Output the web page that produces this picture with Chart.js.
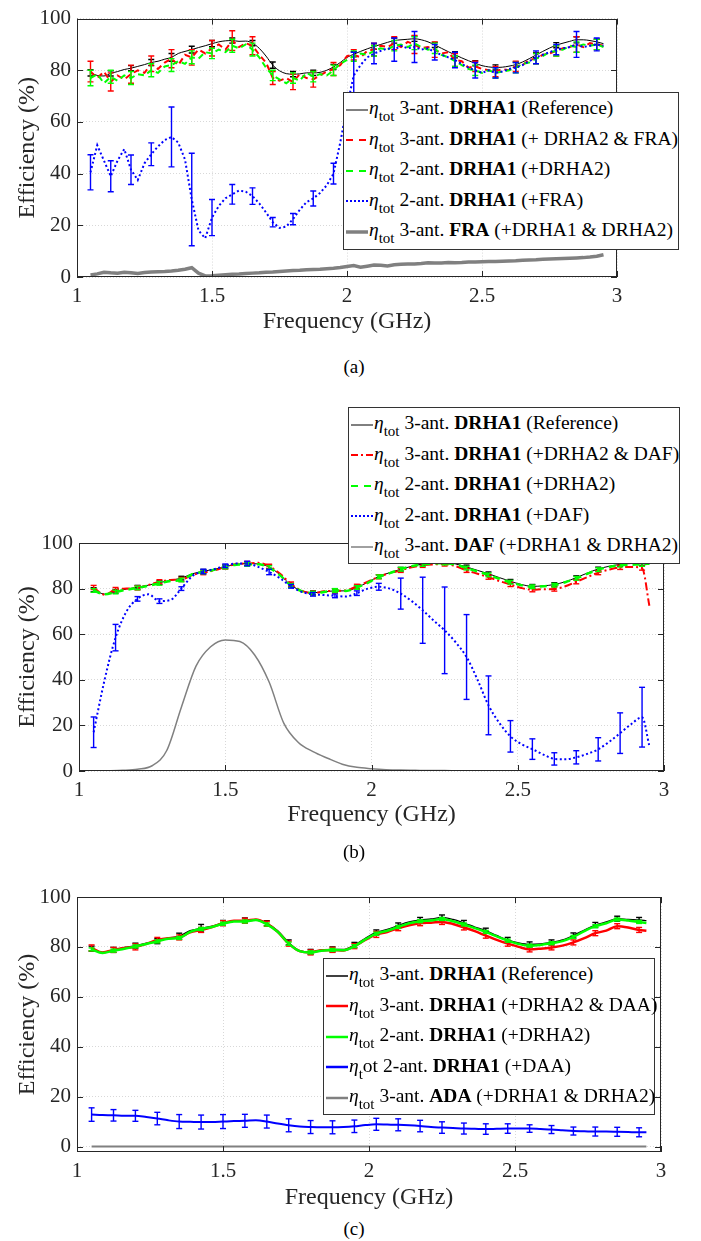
<!DOCTYPE html>
<html>
<head>
<meta charset="utf-8">
<script src="https://cdn.jsdelivr.net/npm/chart.js@4/dist/chart.umd.min.js"></script>
<style>
  body { margin: 0; background: #fff; }
  #page { position: relative; width: 701px; height: 1241px; font-family: "Liberation Serif", serif; color: #262626; }
  canvas { position: absolute; left: 0; }
  .legend { position: absolute; box-sizing: border-box; border: 1px solid #333; background: #fff; z-index: 5; font-size: 19.5px; color: #000; }
  .row { height: 30.6px; line-height: 30.6px; white-space: nowrap; }
  .row svg { vertical-align: middle; margin-left: 2px; margin-right: 1px; }
  .sub { font-size: 15px; position: relative; top: 7px; }
  .cap { position: absolute; left: 0; width: 708px; text-align: center; font-size: 19px; line-height: 24px; color: #000; }
</style>
</head>
<body>
<div id="page">
  <canvas id="chartA" width="701" height="336" style="top:0px"></canvas>
  <canvas id="chartB" width="701" height="349" style="top:480px"></canvas>
  <canvas id="chartC" width="701" height="352" style="top:860px"></canvas>

  <div class="legend" style="left:343px;top:92px;width:336px;height:158px">
    <div class="row"><svg width="22" height="8"><line x1="0" y1="4" x2="22" y2="4" stroke="#000" stroke-width="1"/></svg><i>η</i><span class="sub">tot</span> 3-ant. <b>DRHA1</b> (Reference)</div>
    <div class="row"><svg width="22" height="8"><line x1="0" y1="4" x2="22" y2="4" stroke="#f00" stroke-width="2" stroke-dasharray="7 6"/></svg><i>η</i><span class="sub">tot</span> 3-ant. <b>DRHA1</b> (+ DRHA2 &amp; FRA)</div>
    <div class="row"><svg width="22" height="8"><line x1="0" y1="4" x2="22" y2="4" stroke="#0f0" stroke-width="2" stroke-dasharray="7 6"/></svg><i>η</i><span class="sub">tot</span> 2-ant. <b>DRHA1</b> (+DRHA2)</div>
    <div class="row"><svg width="22" height="8"><line x1="0" y1="4" x2="22" y2="4" stroke="#00f" stroke-width="2" stroke-dasharray="2 2"/></svg><i>η</i><span class="sub">tot</span> 2-ant. <b>DRHA1</b> (+FRA)</div>
    <div class="row"><svg width="22" height="8"><line x1="0" y1="4" x2="22" y2="4" stroke="#808080" stroke-width="3.5"/></svg><i>η</i><span class="sub">tot</span> 3-ant. <b>FRA</b> (+DRHA1 &amp; DRHA2)</div>
  </div>

  <div class="legend" style="left:348px;top:407px;width:332px;height:157px">
    <div class="row"><svg width="22" height="8"><line x1="0" y1="4" x2="22" y2="4" stroke="#000" stroke-width="1"/></svg><i>η</i><span class="sub">tot</span> 3-ant. <b>DRHA1</b> (Reference)</div>
    <div class="row"><svg width="22" height="8"><line x1="0" y1="4" x2="22" y2="4" stroke="#f00" stroke-width="2" stroke-dasharray="7 3 2 3"/></svg><i>η</i><span class="sub">tot</span> 3-ant. <b>DRHA1</b> (+DRHA2 &amp; DAF)</div>
    <div class="row"><svg width="22" height="8"><line x1="0" y1="4" x2="22" y2="4" stroke="#0f0" stroke-width="2" stroke-dasharray="7 6"/></svg><i>η</i><span class="sub">tot</span> 2-ant. <b>DRHA1</b> (+DRHA2)</div>
    <div class="row"><svg width="22" height="8"><line x1="0" y1="4" x2="22" y2="4" stroke="#00f" stroke-width="2" stroke-dasharray="2 2"/></svg><i>η</i><span class="sub">tot</span> 2-ant. <b>DRHA1</b> (+DAF)</div>
    <div class="row"><svg width="22" height="8"><line x1="0" y1="4" x2="22" y2="4" stroke="#808080" stroke-width="1.5"/></svg><i>η</i><span class="sub">tot</span> 3-ant. <b>DAF</b> (+DRHA1 &amp; DRHA2)</div>
  </div>

  <div class="legend" style="left:323px;top:958px;width:332px;height:157px">
    <div class="row"><svg width="22" height="8"><line x1="0" y1="4" x2="22" y2="4" stroke="#000" stroke-width="1.5"/></svg><i>η</i><span class="sub">tot</span> 3-ant. <b>DRHA1</b> (Reference)</div>
    <div class="row"><svg width="22" height="8"><line x1="0" y1="4" x2="22" y2="4" stroke="#f00" stroke-width="2.5"/></svg><i>η</i><span class="sub">tot</span> 3-ant. <b>DRHA1</b> (+DRHA2 &amp; DAA)</div>
    <div class="row"><svg width="22" height="8"><line x1="0" y1="4" x2="22" y2="4" stroke="#0f0" stroke-width="2.5"/></svg><i>η</i><span class="sub">tot</span> 2-ant. <b>DRHA1</b> (+DRHA2)</div>
    <div class="row"><svg width="22" height="8"><line x1="0" y1="4" x2="22" y2="4" stroke="#00f" stroke-width="2.5"/></svg><i>η</i><span class="sub">t</span>ot 2-ant. <b>DRHA1</b> (+DAA)</div>
    <div class="row"><svg width="22" height="8"><line x1="0" y1="4" x2="22" y2="4" stroke="#808080" stroke-width="2.5"/></svg><i>η</i><span class="sub">tot</span> 3-ant. <b>ADA</b> (+DRHA1 &amp; DRHA2)</div>
  </div>

  <div class="cap" style="top:355px">(a)</div>
  <div class="cap" style="top:840px">(b)</div>
  <div class="cap" style="top:1217px">(c)</div>
</div>

<script>
// axis ticks
const xTicks = [1, 1.5, 2, 2.5, 3];
const xTickLabels = ['1', '1.5', '2', '2.5', '3'];
const yTicks = [0, 20, 40, 60, 80, 100];
const yTickLabels = ['0', '20', '40', '60', '80', '100'];

// error bar positions (GHz), shared by all panels
const errX = [1.05,1.125,1.2,1.275,1.35,1.425,1.5,1.575,1.65,1.725,1.8,1.875,1.95,2.025,2.1,2.175,2.25,2.325,2.4,2.475,2.55,2.625,2.7,2.775,2.85,2.925];

// ---- panel (a) ----
const freqA = [1.05,1.075,1.1,1.125,1.15,1.175,1.2,1.225,1.25,1.275,
  1.3,1.325,1.35,1.375,1.4,1.425,1.45,1.475,1.5,1.525,
  1.55,1.575,1.6,1.625,1.65,1.675,1.7,1.725,1.75,1.775,
  1.8,1.825,1.85,1.875,1.9,1.925,1.95,1.975,2.0,2.025,
  2.05,2.075,2.1,2.125,2.15,2.175,2.2,2.225,2.25,2.275,
  2.3,2.325,2.35,2.375,2.4,2.425,2.45,2.475,2.5,2.525,
  2.55,2.575,2.6,2.625,2.65,2.675,2.7,2.725,2.75,2.775,
  2.8,2.825,2.85,2.875,2.9,2.925,2.95];
const refA = [79,78,77.8,78.8,79.5,80.3,80.8,81.5,82.2,83,
  83.5,84.3,85,86.5,87.3,88,88.8,89.5,90.3,91,
  91.4,91.5,91.2,91.3,90.5,88.5,85.5,82,79.8,78.7,
  78.5,78.6,79,79,79.2,80,81.3,83,85,86.2,
  87.3,88.3,89.2,90,90.8,91.5,91.8,92,92.2,91.8,
  91,89.8,88.5,87.2,86,84.8,83.7,82.7,81.8,81.3,
  81.1,81.2,81.6,82.2,83.2,84.5,85.9,87.3,88.6,89.7,
  90.5,91.2,91.8,91.8,91.5,91,90.3];
const redA = [79.5,77,79.5,75.5,78,76.5,78.5,80,79,82.5,
  80.5,83,84.5,82,86,85,88,86.5,88.5,90,
  88,91.5,89,90.5,89.5,86,83,77,76,77,
  75.5,78.5,77,76.5,78,79.5,80.5,82,85.5,86,
  85,87.5,88,89.5,89,90.5,89,91,90,88.5,
  89,88,86.5,87,84,83.5,81,81.5,80.5,80,
  79.5,80.5,80,81.5,82,84,84.5,86,86.5,87.5,
  88.5,89,90,89,90.5,90,89.5];
const greenA = [77,78.5,75,77.5,76,78,77,78.5,78,80,
  79,81.5,82,83.5,82.5,85,84.5,87,86.5,88,
  87,89.5,88.5,90,88,85,81,78,76.5,75,
  77,76,79,77.5,78.5,78,80,82.5,84,85.5,
  86.5,86,87.5,88.5,88,89.5,90,89,90.5,89,
  88,88.5,86,85,83.5,82,80.5,80,79,80,
  79,79.5,80,81,82.5,83,84.5,85.5,87,87.5,
  88,89.5,89,90,89.5,90,89];
const blueA = [40.5,51,45,39,45,49.5,41.5,37.5,44,47.5,
  50.5,53,54.2,52,45.5,30,18,15,23,27.5,
  30.5,32,33.5,33,31.3,28.5,25,21.2,19,19.5,
  22.4,26,29,30.4,32.5,35.5,40,52,66,78,
  82,85,86.5,87.5,88.5,88,89.5,88.5,89,88,
  88.5,87,86,85,84,82.5,81,80,79,80,
  79,79.5,80.5,81,82,83.5,85,86,87,88,
  88.5,89,90,89,89.5,90,89.5];
const grayA = [0.8,1.2,1.8,1.6,1.5,1.8,1.6,1.4,1.7,1.9,
  2,2.1,2.3,2.6,3,3.6,1.5,0.4,0.5,0.7,
  0.9,1.1,1.2,1.4,1.5,1.6,1.8,1.9,2.1,2.3,
  2.5,2.6,2.8,2.9,3,3.2,3.4,3.7,4.1,4.4,
  3.8,4.2,4.6,4.5,4.3,4.7,4.9,5,5,5.2,
  5.5,5.4,5.4,5.6,5.5,5.6,5.8,5.8,5.9,6,
  6,6.1,6.2,6.3,6.5,6.6,6.7,6.9,7,7.1,
  7.2,7.3,7.4,7.5,7.7,8,8.6];
const refErrA = [1.2,1,1,1.2,1.5,1.3,1.2,1,1,1.2,1,1,1,1,1,1,1,1,1.2,1,1,1,1,1,1.2,1];
const redErrA = [4,3.5,3.5,3,3.5,3,3,3.8,3.5,2.5,3,3,2.5,2,2.5,2.5,3.5,3,2.5,2,2,2,2,2,3,2];
const greenErrA = [3,2.5,2.5,2.5,2.5,2.5,2,2.5,2.5,2,2,2,2,2,2,2,2.5,2,2,2,2,2,2,2,2,2];
const blueErrA = [6.8,6,5.7,4.4,11.6,17.9,7,3.8,3.2,1.8,2.2,2.9,4,9,4,4.5,6,3,3,3,2,2,2.5,2,5,2.5];

// ---- panels (b) and (c) share a frequency grid ----
const freqBC = [1.05,1.0875,1.125,1.1625,1.2,1.2375,1.275,1.3125,1.35,1.3875,
  1.425,1.4625,1.5,1.5375,1.575,1.6125,1.65,1.6875,1.725,1.7625,
  1.8,1.8375,1.875,1.9125,1.95,1.9875,2.025,2.0625,2.1,2.1375,
  2.175,2.2125,2.25,2.2875,2.325,2.3625,2.4,2.4375,2.475,2.5125,
  2.55,2.5875,2.625,2.6625,2.7,2.7375,2.775,2.8125,2.85,2.8875,
  2.925,2.95];

// ---- panel (b) ----
const refB = [79.5,77.6,78.8,79.8,80.6,81.5,82.6,83.6,84.6,86.5,
  87.6,88.5,89.6,90.6,91,90.8,89.5,86,81.5,79,
  78.2,78.6,79,79,80.5,82.8,85.3,87,88.5,89.8,
  90.8,91.3,91.5,90.8,89.5,88,86.5,84.8,83.2,81.8,
  81,81.2,81.8,83,84.8,86.8,88.6,89.8,90.6,91,
  91,90.8];
const redB = [80.5,77.3,79.6,80,80.3,81.6,83,83.8,84,86,
  87,88,89.5,90.8,91,91.3,89.8,86.5,82,79,
  78,78.8,79,79.2,81,83,85.2,86.8,88,89.3,
  90.2,90.6,90.8,89.8,88,86.5,85,83.3,81.8,80.3,
  79.5,79.7,79.8,81,83,85,87,88.3,89.3,89.5,
  89,72.5];
const greenB = [79.2,77.5,78.5,79.5,80.3,81.3,82.3,83.3,83.8,86.3,
  87.3,88.3,89.5,90.5,90.6,90.7,89.2,85.8,81.3,78.8,
  78,78.5,79.2,79,80.5,82.5,85.2,86.8,88.5,89.8,
  90.6,91,91.2,90.5,89,87.5,86,84.3,82.8,81.5,
  80.8,81,81.5,82.8,84.5,86.5,88.3,89.5,90.3,90.5,
  90.6,91];
const blueB = [17,40,58.5,70,75.5,77.5,74.5,75,80,85.5,
  87.5,88.5,90,91,91,89.5,87.3,84.5,81,78.5,
  77.5,77.2,76.8,76.5,78,80,80.8,80,77.8,74.5,
  70.5,66,61.7,56.5,50,40,28.8,21,15.2,11.8,
  9.6,7.2,5.3,5.1,6,7.5,9.5,12.8,16.6,20.5,
  23.6,11];
const freqGrayB = [1.05,1.1,1.15,1.2,1.25,1.3,1.35,1.4,1.45,1.5,
  1.55,1.6,1.65,1.7,1.75,1.8,1.85,1.9,1.95,2.0,
  2.05,2.1,2.15,2.2,2.25,2.3,2.35,2.4,2.45,2.5,
  2.55,2.6,2.65,2.7,2.75,2.8,2.85,2.9,2.95];
const grayB = [0,0.1,0.3,0.8,2.3,9,28,46,54.5,57.5,
  56.8,51,39,21,12.5,8.5,5.6,3,1.6,1,
  0.6,0.4,0.3,0.2,0.2,0.1,0.1,0.1,0.1,0.1,
  0.1,0.1,0.1,0.1,0.1,0.1,0.1,0.1,0.1];
const refErrB = [0.9,0.8,0.8,0.8,0.8,0.8,0.8,0.8,0.8,0.8,0.8,0.8,0.8,0.8,0.8,0.8,0.8,0.8,0.8,0.8,0.8,0.8,0.8,0.8,0.8,0.8];
const redErrB = [0.9,0.9,0.9,0.9,0.9,0.9,0.9,0.9,0.9,0.9,0.9,0.9,0.9,0.9,0.9,0.9,0.9,0.9,0.9,0.9,0.9,0.9,0.9,0.9,0.9,0.9];
const greenErrB = [0.8,0.8,0.8,0.8,0.8,0.8,0.8,0.8,0.8,0.8,0.8,0.8,0.8,0.8,0.8,0.8,0.8,0.8,0.8,0.8,0.8,0.8,0.8,0.8,0.8,0.8];
const blueErrB = [6.7,5.8,1,1,0.8,1,0.8,1,1.2,0.8,0.8,0.8,1,1.5,6.8,14.5,19,18.6,12.9,6.9,4.5,2.7,2.9,5.1,8.9,13.1];

// ---- panel (c) ----
const refC = [79.3,77.8,78.8,79.8,80.5,81.5,82.3,83.5,84.3,86.5,
  87.5,88.3,89.6,90.3,90.6,90.8,89.5,86.5,81.8,78.5,
  78,78.7,79,79,80.8,83.5,85.8,87,88.6,90,
  90.8,91.2,91.8,91,89.6,88,86.5,84.6,82.8,81.6,
  81,81.2,81.8,82.8,84.6,86.8,88.8,90,91.3,91,
  90.8,90.5];
const redC = [79.6,77.8,78.8,79.6,80,81.2,82.8,83.5,83.8,85.8,
  86.8,88,89.5,90.5,90.5,91,89.3,86,81.3,78.3,
  77.8,78.7,78.8,78.6,80.3,82.8,85,86,87.5,88.7,
  89.5,89.7,90,89.2,87.8,86.3,84.5,82.8,81.3,80,
  79,79.3,79.8,80.5,81.8,83.5,85.5,86.5,88.3,87.8,
  86.8,86.5];
const greenC = [79,77.6,78.5,79.3,80.2,81.2,82.2,83.3,83.6,86,
  87.2,88,89.3,90.2,90.2,90.8,89,86,81.3,78.3,
  77.8,78.5,78.8,78.7,80.3,83,85.3,86.5,88,89.5,
  90.3,90.6,91.2,90.3,89,87.5,86,84.2,82.5,81.2,
  80.5,80.8,81.5,82.3,84,86.3,88.3,89.5,91,90.6,
  90,89.6];
const blueC = [12.8,12.6,12.5,12.3,12.3,11.8,11.2,10.5,10,9.9,
  9.8,9.8,10,10.2,10.3,10.5,10,9.2,8.5,8,
  7.8,7.7,7.7,7.8,8.1,8.6,8.9,8.8,8.7,8.5,
  8.2,7.8,7.6,7.4,7.2,7.1,7,7.1,7.2,7.2,
  7.2,7,6.8,6.5,6.2,6.1,6,6,5.9,5.8,
  5.7,5.7];
const freqGrayC = [1.05, 2.95];
const grayC = [0, 0];
const refErrC = [1,1,1,1,1.2,1.5,1,1,1,1,1,1,1,1,1,1,1,1,1,1,1,1,1,1,1,1];
const redErrC = [1.2,1,1.2,1,1,1,1,1,1,1,1,1,1,1.2,1,1,1,1,1,1,1,1,1,1,1,1];
const greenErrC = [0.6,0.6,0.6,0.6,0.6,0.6,0.6,0.6,0.6,0.6,0.6,0.6,0.6,0.6,0.6,0.6,0.6,0.6,0.6,0.6,0.6,0.6,0.6,0.6,0.6,0.6];
const blueErrC = [2.7,2.3,2.2,2.5,2.8,2.8,2.8,2.6,2.6,2.6,2.6,2.6,2.5,2.4,2.4,2.3,2.3,2.2,2.1,1.9,1.5,1.6,1.6,1.8,1.8,1.8];

const serif = '"Liberation Serif", "Times New Roman", serif';
const axisColor = '#262626';
const RED = '#ff0000', GREEN = '#00ff00', BLUE = '#0000ff', GRAY = '#808080';

function pts(xs, ys) {
  return xs.map(function (x, i) { return { x: x, y: ys[i] }; });
}

function curve(xs, ys, color, width, dash, order, smooth) {
  return {
    data: pts(xs, ys),
    borderColor: color,
    borderWidth: width,
    borderDash: dash || [],
    pointRadius: 0,
    tension: smooth ? 0.4 : 0,
    cubicInterpolationMode: smooth ? 'monotone' : 'default',
    fill: false,
    order: order
  };
}

// vertical bars with caps, centred on the curve value at each errX
function errorBars(xs, ys, half, color, order, width) {
  const data = [];
  errX.forEach(function (ex, i) {
    const y = ys[xs.indexOf(ex)];
    data.push({ x: ex, y: y - half[i] }, { x: ex, y: y + half[i] }, { x: ex, y: null });
  });
  return {
    data: data,
    borderColor: color,
    borderWidth: width || 1.4,
    pointStyle: 'line',
    pointRadius: 3,
    pointBorderWidth: width || 1.4,
    pointBorderColor: color,
    pointBackgroundColor: color,
    spanGaps: false,
    tension: 0,
    fill: false,
    order: order
  };
}

// box round the plot and inward tick marks (matlab look)
const framePlugin = {
  id: 'frame',
  afterDatasetsDraw(chart) {
    const ctx = chart.ctx;
    const a = chart.chartArea;
    const x = chart.scales.x, y = chart.scales.y;
    ctx.save();
    ctx.strokeStyle = axisColor;
    ctx.lineWidth = 1;
    ctx.beginPath();
    x.ticks.forEach(function (t) {
      const px = Math.round(x.getPixelForValue(t.value)) + 0.5;
      ctx.moveTo(px, a.bottom); ctx.lineTo(px, a.bottom - 6);
      ctx.moveTo(px, a.top); ctx.lineTo(px, a.top + 6);
    });
    y.ticks.forEach(function (t) {
      const py = Math.round(y.getPixelForValue(t.value)) + 0.5;
      ctx.moveTo(a.left, py); ctx.lineTo(a.left + 6, py);
      ctx.moveTo(a.right, py); ctx.lineTo(a.right - 6, py);
    });
    ctx.stroke();
    ctx.strokeRect(Math.round(a.left) + 0.5, Math.round(a.top) + 0.5,
      Math.round(a.right - a.left) - 1, Math.round(a.bottom - a.top) - 1);
    ctx.restore();
  }
};

function makeChart(id, datasets, lay) {
  const ctx = document.getElementById(id).getContext('2d');
  return new Chart(ctx, {
    type: 'line',
    data: { datasets: datasets },
    plugins: [framePlugin],
    options: {
      responsive: false,
      animation: false,
      layout: { padding: { top: lay.top, right: lay.right, bottom: 0, left: 0 } },
      plugins: { legend: { display: false }, tooltip: { enabled: false } },
      scales: {
        x: {
          type: 'linear', min: 1, max: 3,
          afterBuildTicks: function (s) { s.ticks = xTicks.map(function (v) { return { value: v }; }); },
          afterFit: function (s) { s.height = lay.xh; },
          grid: { color: 'rgba(38,38,38,0.18)', drawTicks: false },
          border: { display: false, dash: [1, 2] },
          ticks: {
            padding: 7, color: axisColor, maxRotation: 0, autoSkip: false,
            font: { family: serif, size: 21 },
            callback: function (v, i) { return xTickLabels[i]; }
          },
          title: { display: true, text: 'Frequency (GHz)', color: axisColor, font: { family: serif, size: 24 }, padding: { top: 0, bottom: 0 } }
        },
        y: {
          type: 'linear', min: lay.ymin, max: 100,
          afterBuildTicks: function (s) { s.ticks = yTicks.map(function (v) { return { value: v }; }); },
          afterFit: function (s) { s.width = lay.yw; },
          grid: { color: 'rgba(38,38,38,0.18)', drawTicks: false },
          border: { display: false, dash: [1, 2] },
          ticks: {
            padding: 6, color: axisColor,
            font: { family: serif, size: 21 },
            callback: function (v, i) { return yTickLabels[i]; }
          },
          title: { display: true, text: 'Efficiency (%)', color: axisColor, font: { family: serif, size: 24 }, padding: { top: 13, bottom: 0 } }
        }
      }
    }
  });
}

document.addEventListener("DOMContentLoaded", function () {
  makeChart('chartA', [
    curve(freqA, blueA, BLUE, 2, [2, 2.5], 1, false),
    errorBars(freqA, blueA, blueErrA, BLUE, 1),
    curve(freqA, greenA, GREEN, 2, [6, 4], 2, false),
    errorBars(freqA, greenA, greenErrA, GREEN, 2),
    curve(freqA, redA, RED, 2, [6, 4], 3, false),
    errorBars(freqA, redA, redErrA, RED, 3),
    curve(freqA, refA, '#000000', 1, [], 4, true),
    errorBars(freqA, refA, refErrA, '#000000', 4),
    curve(freqA, grayA, GRAY, 3.5, [], 5, false)
  ], { top: 13, right: 84, xh: 59, yw: 77, ymin: 0 });

  makeChart('chartB', [
    curve(freqBC, blueB, BLUE, 2, [2, 2.5], 1, true),
    errorBars(freqBC, blueB, blueErrB, BLUE, 1),
    curve(freqBC, greenB, GREEN, 2.5, [7, 5], 2, true),
    errorBars(freqBC, greenB, greenErrB, GREEN, 2),
    curve(freqBC, redB, RED, 2, [8, 3, 2, 3], 3, true),
    errorBars(freqBC, redB, redErrB, RED, 3),
    curve(freqBC, refB, '#000000', 1, [], 4, true),
    errorBars(freqBC, refB, refErrB, '#000000', 4),
    curve(freqGrayB, grayB, GRAY, 1.5, [], 5, true)
  ], { top: 63, right: 37, xh: 58, yw: 79, ymin: 0 });

  makeChart('chartC', [
    curve(freqBC, blueC, BLUE, 2, [], 1, true),
    errorBars(freqBC, blueC, blueErrC, BLUE, 1),
    curve(freqBC, greenC, GREEN, 2.5, [], 2, true),
    errorBars(freqBC, greenC, greenErrC, GREEN, 2),
    curve(freqBC, redC, RED, 2.5, [], 3, true),
    errorBars(freqBC, redC, redErrC, RED, 3),
    curve(freqBC, refC, '#000000', 1.2, [], 4, true),
    errorBars(freqBC, refC, refErrC, '#000000', 4),
    curve(freqGrayC, grayC, GRAY, 2, [], 5, false)
  ], { top: 37, right: 40, xh: 60, yw: 77, ymin: -2.2 });
});
</script>
</body>
</html>
